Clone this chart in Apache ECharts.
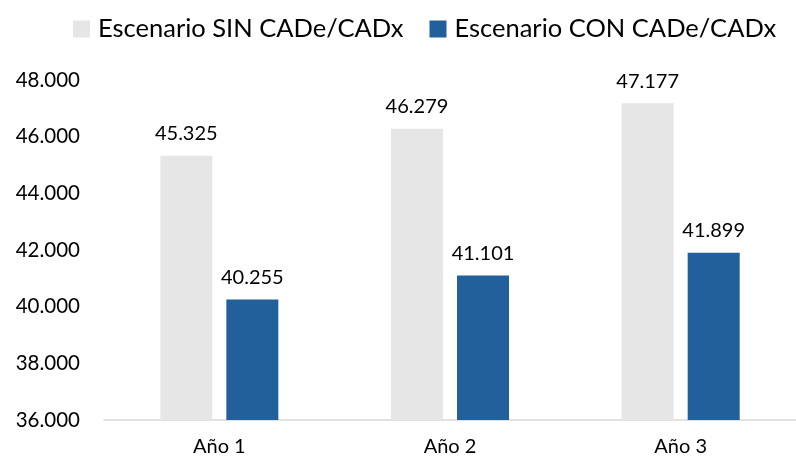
<!DOCTYPE html>
<html>
<head>
<meta charset="utf-8">
<script src="https://cdn.jsdelivr.net/npm/echarts@6/dist/echarts.min.js"></script>
<style>
  html, body { margin: 0; padding: 0; background: #fff; }
  #chart { width: 796px; height: 462px; }
</style>
</head>
<body>
<div id="chart"></div>
<script>
// datos
const categories = ['Año 1', 'Año 2', 'Año 3']
const sinValues = [45325, 46279, 47177]
const conValues = [40255, 41101, 41899]
const seriesNames = ['Escenario SIN CADe/CADx', 'Escenario CON CADe/CADx']

const FONT = 'Lato, "Open Sans", sans-serif'
const TEXT = '#000000'

// 45325 -> 45.325
const fmt = v => String(v).replace(/\B(?=(\d{3})+(?!\d))/g, '.')

const chart = echarts.init(document.getElementById('chart'))

const label = {
  show: true,
  position: 'top',
  distance: 12,
  color: TEXT,
  fontFamily: FONT,
  fontSize: 20,
  formatter: p => fmt(p.value),
}

chart.setOption({
  animation: false,
  textStyle: { fontFamily: FONT },
  legend: {
    data: seriesNames,
    top: 11,
    left: 68,
    itemWidth: 17,
    itemHeight: 17,
    itemGap: 26,
    icon: 'rect',
    textStyle: {
      color: TEXT,
      fontSize: 25.5,
      fontFamily: FONT,
      padding: [0, 0, 0, 3],
    },
  },
  grid: {
    left: 104,
    right: -8,
    top: 80,
    bottom: 42,
  },
  xAxis: {
    type: 'category',
    data: categories,
    axisTick: { show: false },
    axisLine: {
      lineStyle: { color: '#d9d9d9', width: 1.5 },
    },
    axisLabel: {
      color: TEXT,
      fontSize: 20,
      fontFamily: FONT,
      margin: 17,
    },
  },
  yAxis: {
    type: 'value',
    min: 36000,
    max: 48000,
    interval: 2000,
    splitLine: { show: false },
    axisLine: { show: false },
    axisTick: { show: false },
    axisLabel: {
      color: TEXT,
      fontSize: 20.5,
      fontFamily: FONT,
      margin: 24,
      formatter: v => fmt(v),
    },
  },
  series: [
    {
      name: seriesNames[0],
      type: 'bar',
      data: sinValues,
      barWidth: 52,
      barGap: '27%',
      itemStyle: { color: '#e7e6e6' },
      label,
    },
    {
      name: seriesNames[1],
      type: 'bar',
      data: conValues,
      barWidth: 52,
      itemStyle: { color: '#22609c' },
      label,
    },
  ],
})
</script>
</body>
</html>
